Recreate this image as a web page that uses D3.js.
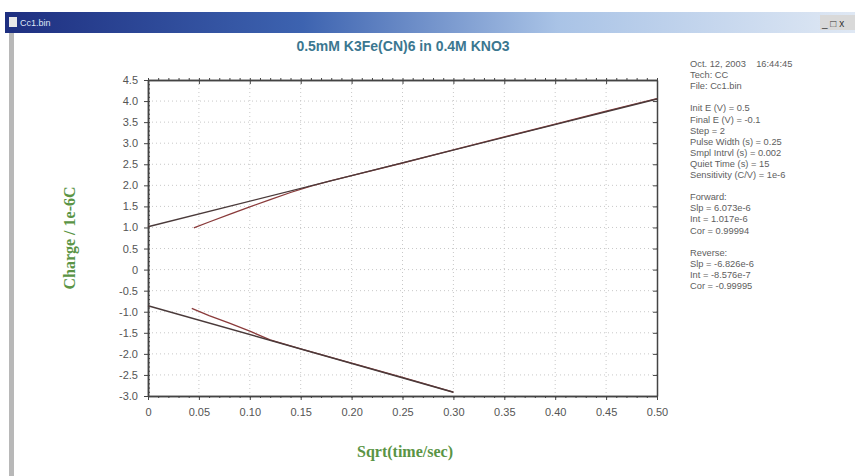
<!DOCTYPE html>
<html>
<head>
<meta charset="utf-8">
<script src="https://cdn.jsdelivr.net/npm/d3@7"></script>
<style>
  body { margin: 0; background: #fff; }
  svg { display: block; }
</style>
</head>
<body>
<svg width="855" height="476"></svg>
<script>
// values
const xTicks = [0, 0.05, 0.10, 0.15, 0.20, 0.25, 0.30, 0.35, 0.40, 0.45, 0.50];
const xTickLabels = ["0", "0.05", "0.10", "0.15", "0.20", "0.25", "0.30", "0.35", "0.40", "0.45", "0.50"];
const yTicks = [4.5, 4.0, 3.5, 3.0, 2.5, 2.0, 1.5, 1.0, 0.5, 0, -0.5, -1.0, -1.5, -2.0, -2.5, -3.0];
const yTickLabels = ["4.5", "4.0", "3.5", "3.0", "2.5", "2.0", "1.5", "1.0", "0.5", "0", "-0.5", "-1.0", "-1.5", "-2.0", "-2.5", "-3.0"];

const fwdData = [[0.045, 0.99], [0.06, 1.13], [0.08, 1.31], [0.10, 1.49], [0.12, 1.66], [0.14, 1.83],
  [0.16, 1.98], [0.18, 2.11], [0.20, 2.23], [0.25, 2.53], [0.30, 2.84], [0.35, 3.15], [0.40, 3.45], [0.45, 3.76], [0.50, 4.06]];
const fwdFit = [[0, 1.017], [0.50, 4.05]];
const revData = [[0.043, -0.92], [0.06, -1.09], [0.08, -1.27], [0.10, -1.46], [0.12, -1.67], [0.15, -1.88],
  [0.20, -2.22], [0.25, -2.56], [0.30, -2.91]];
const revFit = [[0, -0.858], [0.30, -2.91]];

const infoLines = [
  "Oct. 12, 2003    16:44:45", "Tech: CC", "File: Cc1.bin", "",
  "Init E (V) = 0.5", "Final E (V) = -0.1", "Step = 2", "Pulse Width (s) = 0.25",
  "Smpl Intrvl (s) = 0.002", "Quiet Time (s) = 15", "Sensitivity (C/V) = 1e-6", "",
  "Forward:", "Slp = 6.073e-6", "Int = 1.017e-6", "Cor = 0.99994", "",
  "Reverse:", "Slp = -6.826e-6", "Int = -8.576e-7", "Cor = -0.99995"
];

const svg = d3.select("svg");

// window frame
const grad = svg.append("defs").append("linearGradient").attr("id", "tb");
grad.append("stop").attr("offset", "0%").attr("stop-color", "#1e2f80");
grad.append("stop").attr("offset", "35%").attr("stop-color", "#3d63b0");
grad.append("stop").attr("offset", "65%").attr("stop-color", "#a9c3e6");
grad.append("stop").attr("offset", "100%").attr("stop-color", "#dfe8f4");
svg.append("rect").attr("x", 5).attr("y", 12).attr("width", 850).attr("height", 21).attr("fill", "url(#tb)");
svg.append("rect").attr("x", 9).attr("y", 17).attr("width", 8).attr("height", 10).attr("fill", "#e8e8e8");
svg.append("text").attr("x", 20).attr("y", 26).attr("fill", "#dfe6f5").attr("font-size", 9)
  .attr("font-family", "Liberation Sans, Arial, sans-serif").text("Cc1.bin");
svg.append("rect").attr("x", 820).attr("y", 15).attr("width", 35).attr("height", 15).attr("fill", "#d9d9d9");
svg.append("text").attr("x", 822).attr("y", 27).attr("fill", "#333").attr("font-size", 10)
  .attr("font-family", "Liberation Sans, Arial, sans-serif").text("_ □ x");
svg.append("rect").attr("x", 9).attr("y", 33).attr("width", 5).attr("height", 443).attr("fill", "#b8b8b8");

const margin = { left: 148, right: 657, top: 80, bottom: 396 };
const x = d3.scaleLinear().domain([0, 0.5]).range([margin.left, margin.right]);
const y = d3.scaleLinear().domain([-3.0, 4.5]).range([margin.bottom, margin.top]);

// grid
const g = svg.append("g");
g.selectAll(".vg").data(xTicks.slice(1, -1)).join("line")
  .attr("x1", d => x(d)).attr("x2", d => x(d)).attr("y1", margin.top).attr("y2", margin.bottom)
  .attr("stroke", "#c8c8c8").attr("stroke-dasharray", "1,3");
g.selectAll(".hg").data(yTicks.slice(1, -1)).join("line")
  .attr("y1", d => y(d)).attr("y2", d => y(d)).attr("x1", margin.left).attr("x2", margin.right)
  .attr("stroke", "#c8c8c8").attr("stroke-dasharray", "1,3");

// axes on all four sides
const minorX = d3.range(0, 0.5001, 0.01);
const minorY = d3.range(-3.0, 4.5001, 0.1);
const axisStyle = sel => {
  sel.select(".domain").attr("stroke", "#444").attr("stroke-width", 1.5);
  sel.selectAll("line").attr("stroke", "#444");
  sel.selectAll("text").attr("fill", "#555").attr("font-size", 11)
    .attr("font-family", "Liberation Sans, Arial, sans-serif");
};
const fmtX = d => xTickLabels[xTicks.findIndex(t => Math.abs(t - d) < 1e-9)];
const fmtY = d => yTickLabels[yTicks.findIndex(t => Math.abs(t - d) < 1e-9)];

svg.append("g").attr("transform", `translate(0,${margin.bottom})`)
  .call(d3.axisBottom(x).tickValues(xTicks).tickFormat(fmtX).tickSizeInner(4).tickSizeOuter(0).tickPadding(8)).call(axisStyle);
svg.append("g").attr("transform", `translate(0,${margin.bottom})`)
  .call(d3.axisBottom(x).tickValues(minorX).tickFormat("").tickSize(2).tickSizeOuter(0)).call(axisStyle);
svg.append("g").attr("transform", `translate(0,${margin.top})`)
  .call(d3.axisTop(x).tickValues(minorX).tickFormat("").tickSize(2).tickSizeOuter(0)).call(axisStyle);
svg.append("g").attr("transform", `translate(0,${margin.top})`)
  .call(d3.axisBottom(x).tickValues(xTicks).tickFormat("").tickSize(4).tickSizeOuter(0)).call(axisStyle);
svg.append("g").attr("transform", `translate(${margin.left},0)`)
  .call(d3.axisLeft(y).tickValues(yTicks).tickFormat(fmtY).tickSizeInner(4).tickSizeOuter(0).tickPadding(6)).call(axisStyle);
svg.append("g").attr("transform", `translate(${margin.left},0)`)
  .call(d3.axisRight(y).tickValues(minorY).tickFormat("").tickSize(2).tickSizeOuter(0)).call(axisStyle);
svg.append("g").attr("transform", `translate(${margin.right},0)`)
  .call(d3.axisLeft(y).tickValues(yTicks).tickFormat("").tickSize(4).tickSizeOuter(0)).call(axisStyle);

// lines
const line = d3.line().x(d => x(d[0])).y(d => y(d[1]));
svg.append("path").datum(fwdData).attr("d", line).attr("fill", "none").attr("stroke", "#8a3b3b").attr("stroke-width", 1.3);
svg.append("path").datum(revData).attr("d", line).attr("fill", "none").attr("stroke", "#8a3b3b").attr("stroke-width", 1.3);
svg.append("path").datum(fwdFit).attr("d", line).attr("fill", "none").attr("stroke", "#4a3a3a").attr("stroke-width", 1.4);
svg.append("path").datum(revFit).attr("d", line).attr("fill", "none").attr("stroke", "#4a3a3a").attr("stroke-width", 1.4);

// title and labels
svg.append("text").attr("x", 403).attr("y", 51).attr("text-anchor", "middle")
  .attr("fill", "#3b7790").attr("font-size", 14).attr("font-weight", "bold")
  .attr("font-family", "Liberation Sans, Arial, sans-serif").text("0.5mM K3Fe(CN)6 in 0.4M KNO3");
svg.append("text").attr("transform", "translate(75,238) rotate(-90)").attr("text-anchor", "middle")
  .attr("fill", "#5a9445").attr("font-size", 16).attr("font-weight", "bold")
  .attr("font-family", "Liberation Serif, Times New Roman, serif").text("Charge / 1e-6C");
svg.append("text").attr("x", 405).attr("y", 457).attr("text-anchor", "middle")
  .attr("fill", "#5a9445").attr("font-size", 16).attr("font-weight", "bold")
  .attr("font-family", "Liberation Serif, Times New Roman, serif").text("Sqrt(time/sec)");

// info block
svg.append("g").selectAll("text").data(infoLines).join("text")
  .attr("x", 690).attr("y", (d, i) => 67 + i * 11.1)
  .attr("fill", "#5e5e5e").attr("font-size", 9.3)
  .attr("font-family", "Liberation Sans, Arial, sans-serif")
  .attr("xml:space", "preserve").style("white-space", "pre").text(d => d);
</script>
</body>
</html>
